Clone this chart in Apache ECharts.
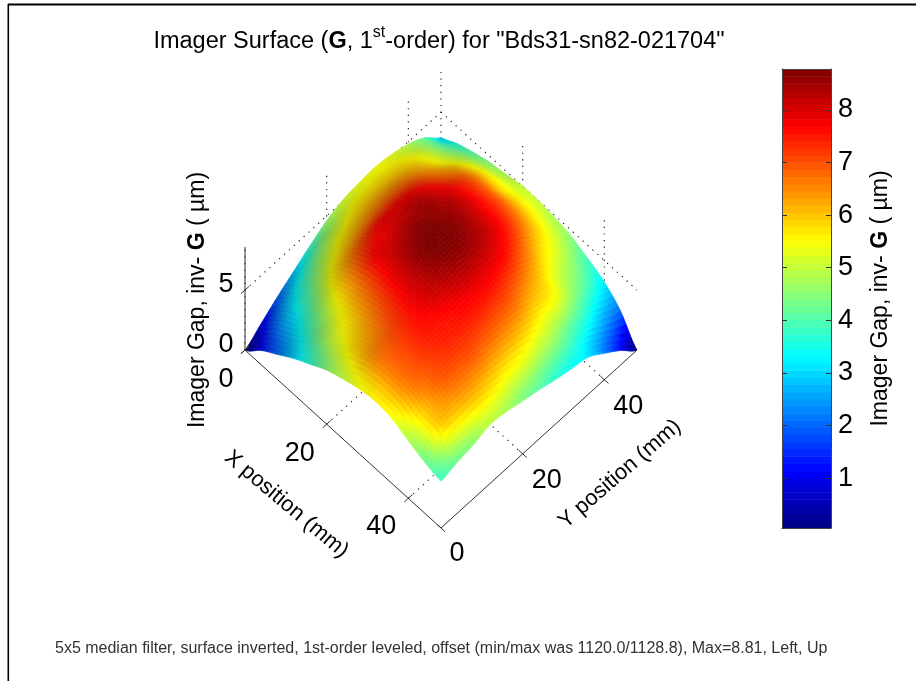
<!DOCTYPE html>
<html><head><meta charset="utf-8">
<style>html,body{margin:0;padding:0;background:#fff}#c{width:916px;height:681px}</style>
<script src="https://cdn.jsdelivr.net/npm/echarts@6/dist/echarts.min.js"></script>
</head><body><div id="c"></div>
<script>
// ---- data ----
const xPositions = [0,4,8,12,16,20,24,28,32,36,40,44,48];
const yPositions = [0,4,8,12,16,20,24,28,32,36,40,44,48];
// gap (um): one row per X position, one column per Y position
const gapAtX0  = [0,1.0,2.0,2.9,3.8,4.6,5.1,5.3,5.4,5.2,4.8,4.1,2.9];
const gapAtX4  = [1.2,2.2,3.2,4.1,4.9,5.4,5.8,5.9,5.9,5.7,5.2,4.4,3.6];
const gapAtX8  = [2.1,3.0,4.1,5.2,5.9,6.4,6.7,6.8,6.7,6.3,5.6,4.9,4.1];
const gapAtX12 = [3.0,3.9,5.0,6.1,7.0,7.6,7.8,7.8,7.5,6.9,6.3,5.4,4.5];
const gapAtX16 = [3.75,4.8,5.6,6.6,7.7,8.0,8.3,8.4,8.0,7.5,6.8,5.7,4.75];
const gapAtX20 = [4.5,5.4,6.1,7.0,7.9,8.4,8.7,8.6,8.3,7.7,6.9,5.7,5.0];
const gapAtX24 = [5.0,6.0,6.6,7.3,8.0,8.6,8.8,8.7,8.3,7.7,6.9,5.8,5.0];
const gapAtX28 = [5.4,6.5,7.0,7.5,8.0,8.3,8.5,8.4,8.1,7.5,6.6,5.6,4.8];
const gapAtX32 = [5.6,6.6,7.1,7.5,7.6,7.8,7.9,7.8,7.5,6.8,5.9,5.2,4.5];
const gapAtX36 = [5.4,6.5,7.0,7.3,7.4,7.4,7.3,7.1,6.6,6.0,5.2,4.6,3.9];
const gapAtX40 = [4.8,6.0,6.75,6.9,6.9,6.7,6.5,6.2,5.7,5.4,4.6,3.9,3.2];
const gapAtX44 = [4.25,5.8,6.0,6.1,5.9,5.6,5.4,5.0,4.6,4.0,3.4,2.6,2.0];
const gapAtX48 = [3.9,4.25,4.5,4.9,4.75,4.4,4.1,3.7,3.4,3.1,2.2,1.2,0];
const gapRows = [gapAtX0,gapAtX4,gapAtX8,gapAtX12,gapAtX16,gapAtX20,gapAtX24,gapAtX28,gapAtX32,gapAtX36,gapAtX40,gapAtX44,gapAtX48];
const xTicks = [0,20,40];
const yTicks = [0,20,40];
const zTicks = [0,5];
const barTicks = [1,2,3,4,5,6,7,8];
const axisExtent = 48, zTop = 8.6;
const cMin = 0.05, cMax = 8.78;
const titleText = '{a|Imager Surface (}{b|G}{a|, 1}{s|st}{a|-order) for "Bds31-sn82-021704"}';
const gapTitle = '{a|Imager Gap, inv- }{b|G}{a| ( µm)}';
const xTitle = 'X position (mm)';
const yTitle = 'Y position (mm)';
const footer = '5x5 median filter, surface inverted, 1st-order leveled, offset (min/max was 1120.0/1128.8), Max=8.81, Left, Up';

// ---- 3D view: projected onto a hidden value-axis grid ----
const zScale = 3.236;
const project = (X,Y,Z) => [X+Y, (Y-X)+Z*zScale];

function jet(v,light){
  const t = Math.max(0,Math.min(1,(v-cMin)/(cMax-cMin)));
  const f = (c)=>Math.round(light*255*Math.max(0,Math.min(1,1.5-Math.abs(4*t-c))));
  return 'rgb('+f(3)+','+f(2)+','+f(1)+')';
}
const cat=(p0,p1,p2,p3,t)=>0.5*((2*p1)+(-p0+p2)*t+(2*p0-5*p1+4*p2-p3)*t*t+(-p0+3*p1-3*p2+p3)*t*t*t);
const cl=(i)=>Math.max(0,Math.min(12,i));
function shade(a,b){ // smooth shading between the table values
  const i=Math.min(11,Math.floor(a)), j=Math.min(11,Math.floor(b)), s=a-i, t=b-j;
  const col=[];
  for(let k=-1;k<=2;k++){const r=gapRows[cl(i+k)];col.push(cat(r[cl(j-1)],r[cl(j)],r[cl(j+1)],r[cl(j+2)],t));}
  return Math.max(0,cat(col[0],col[1],col[2],col[3],s));
}
const SUB=6, cellMm=(xPositions[1]-xPositions[0])/SUB;
const fine=[];
for(let a=0;a<12*SUB;a++)for(let b=0;b<12*SUB;b++){
  const X=(a+.5)*cellMm,Y=(b+.5)*cellMm;
  fine.push([...project(X,Y,0),a/SUB,b/SUB]);
}
fine.sort((p,q)=>(p[2]-p[3])-(q[2]-q[3]));

const seg=(a,b)=>[project(...a),project(...b)];
const dotted=[
  ...[0,20,40,48].map(Y=>seg([0,Y,0],[0,Y,zTop])),
  ...[20,40].map(X=>seg([X,48,0],[X,48,zTop])),
  seg([0,0,5],[0,48,5]), seg([0,48,5],[48,48,5]),
  ...[20,40].map(X=>seg([X,0,0],[X,48,0])),
  ...[20,40].map(Y=>seg([0,Y,0],[48,Y,0])),
];
const solid=[
  seg([0,0,0],[axisExtent,0,0]), seg([axisExtent,0,0],[axisExtent,axisExtent,0]), seg([0,0,0],[0,0,zTop]),
  ...xTicks.map(X=>seg([X,-1,0],[X,1,0])),
  ...yTicks.map(Y=>seg([axisExtent-1,Y,0],[axisExtent+1,Y,0])),
  ...zTicks.map(Z=>seg([0,-1,Z],[0,1,Z])),
];
const lineSeries=(name,segs,type,color,z,w)=>({
  type:'custom',name,xAxisIndex:0,yAxisIndex:0,coordinateSystem:'cartesian2d',silent:true,clip:false,z,
  data:segs.map(s=>[s[0][0],s[0][1],s[1][0],s[1][1]]),
  renderItem:(p,api)=>{
    const A=api.coord([api.value(0),api.value(1)]),B=api.coord([api.value(2),api.value(3)]);
    return {type:'line',shape:{x1:A[0],y1:A[1],x2:B[0],y2:B[1]},
      style:{stroke:color,lineWidth:w,lineDash:type}};
  }
});
const tickFont='27px "Liberation Sans", Arial, sans-serif';
const textSeries=(name,rows,font,color)=>({
  type:'custom',name,xAxisIndex:0,yAxisIndex:0,coordinateSystem:'cartesian2d',silent:true,clip:false,z:6,
  data:rows.map(r=>[r.p[0],r.p[1]]),
  renderItem:(p,api)=>{
    const c=api.coord([api.value(0),api.value(1)]);
    const r=rows[p.dataIndex];
    return {type:'text',x:c[0]+r.dx,y:c[1]+r.dy,rotation:(r.rot||0)*Math.PI/180,
      style:{text:r.t,font,fill:color,align:'center',verticalAlign:'middle'}};
  }
});
const tickLabels=[
  {p:project(0,0,0),t:'0',dx:-19,dy:29},
  {p:project(20,0,0),t:'20',dx:-27,dy:29},
  {p:project(40,0,0),t:'40',dx:-27,dy:28},
  {p:project(48,0,0),t:'0',dx:16,dy:26},
  {p:project(48,20,0),t:'20',dx:24,dy:27},
  {p:project(48,40,0),t:'40',dx:24,dy:27},
  {p:project(0,0,5),t:'5',dx:-19,dy:-6},
  {p:project(0,0,0),t:'0',dx:-19,dy:-6},
];
const axisTitles=[
  {p:project(30,0,0),t:xTitle,dx:-81,dy:43,rot:-40},
  {p:project(48,24,0),t:yTitle,dx:81,dy:35,rot:41},
];
const rich={a:{fontSize:23,fontFamily:'Liberation Sans',color:'#000'},b:{fontSize:23,fontWeight:'bold',fontFamily:'Liberation Sans',color:'#000'}};
const LV=64, levels=[...Array(LV).keys()];

const option={
  animation:false,backgroundColor:'#fff',
  title:{text:titleText,left:434,top:20,textAlign:'center',
    textStyle:{rich:{a:{fontSize:23.5,color:'#000',fontFamily:'Liberation Sans',fontWeight:'normal'},
      b:{fontSize:23.5,color:'#000',fontFamily:'Liberation Sans',fontWeight:'bold'},
      s:{fontSize:16,color:'#000',fontFamily:'Liberation Sans',fontWeight:'normal',verticalAlign:'top',lineHeight:34}}}},
  grid:[{left:245,top:72,width:392,height:456,show:false},
        {left:782,top:69,width:49,height:459,show:false}],
  xAxis:[{gridIndex:0,type:'value',min:0,max:96,show:false},
    {gridIndex:1,type:'value',min:0,max:1,position:'bottom',z:5,axisLine:{show:true,onZero:false,lineStyle:{color:'#444'}},axisTick:{show:false},axisLabel:{show:false},splitLine:{show:false}},
    {gridIndex:1,type:'value',min:0,max:1,position:'top',z:5,axisLine:{show:true,onZero:false,lineStyle:{color:'#444'}},axisTick:{show:false},axisLabel:{show:false},splitLine:{show:false}}],
  yAxis:[{gridIndex:0,type:'value',min:-48,max:75,show:false},
    {gridIndex:1,type:'value',min:cMin,max:cMax,position:'right',z:5,
      axisLine:{show:true,onZero:false,lineStyle:{color:'#444'}},
      axisTick:{show:true,inside:true,length:5,lineStyle:{color:'#333'},customValues:barTicks},
      axisLabel:{show:true,margin:7,fontSize:27,color:'#000',fontFamily:'Liberation Sans',customValues:barTicks,formatter:v=>String(v)},
      splitLine:{show:false},
      name:gapTitle,nameLocation:'middle',nameRotate:90,nameGap:38,nameTextStyle:{color:'#000',rich}},
    {gridIndex:1,type:'value',min:cMin,max:cMax,position:'left',z:5,
      axisLine:{show:true,onZero:false,lineStyle:{color:'#444'}},
      axisTick:{show:true,inside:true,length:5,lineStyle:{color:'#333'},customValues:barTicks},
      axisLabel:{show:false},splitLine:{show:false}}],
  graphic:[
    {type:'rect',silent:true,shape:{x:8,y:3.5,width:908,height:2},style:{fill:'#000'}},
    {type:'rect',silent:true,shape:{x:7.5,y:4,width:1.6,height:677},style:{fill:'#000'}},
    {type:'text',silent:true,x:198,y:300,rotation:Math.PI/2,
      style:{text:gapTitle,rich,align:'center',verticalAlign:'middle',fill:'#000'}},
    {type:'text',silent:true,x:55,y:649,
      style:{text:footer,font:'16px "Liberation Sans", Arial, sans-serif',fill:'#333',verticalAlign:'middle'}}
  ],
  series:[
    lineSeries('grid lines',dotted,[1.2,5.4],'#222',1,1.2),
    {type:'custom',name:'surface',xAxisIndex:0,yAxisIndex:0,coordinateSystem:'cartesian2d',silent:true,clip:false,z:2,progressive:0,
      data:fine,
      renderItem:(p,api)=>{
        const a=api.value(2),b=api.value(3),d=1/SUB;
        const corners=[[a,b],[a+d,b],[a+d,b+d],[a,b+d]];
        const pts=corners.map(([s,t])=>api.coord(project(s*4,t*4,shade(s,t))));
        // surface lighting: slopes rising with X face away from the light
        const slope=(shade(a+d,b+d/2)-shade(a,b+d/2))/(d*4);
        const light=1-Math.min(0.22,Math.max(0,slope)*0.9);
        const col=jet(shade(a+d/2,b+d/2),light);
        return {type:'polygon',shape:{points:pts},style:{fill:col,stroke:col,lineWidth:.7}};
      }},
    lineSeries('axes',solid,null,'#333',3,1),
    textSeries('tick labels',tickLabels,tickFont,'#000'),
    textSeries('axis titles',axisTitles,'22px "Liberation Sans", Arial, sans-serif','#000'),
    {type:'custom',name:'colorbar',xAxisIndex:1,yAxisIndex:1,coordinateSystem:'cartesian2d',silent:true,clip:true,z:2,progressive:0,
      data:levels.map(i=>[0.5,cMin+(i+.5)*(cMax-cMin)/LV]),
      renderItem:(p,api)=>{
        const v=api.value(1),h=(cMax-cMin)/LV/2;
        const A=api.coord([0,v+h]),B=api.coord([1,v-h]);
        return {type:'rect',shape:{x:A[0],y:A[1],width:B[0]-A[0],height:B[1]-A[1]+.5},style:{fill:jet(v,1)}};
      }}
  ]
};
echarts.init(document.getElementById('c'),null,{renderer:'canvas'}).setOption(option);
</script></body></html>
